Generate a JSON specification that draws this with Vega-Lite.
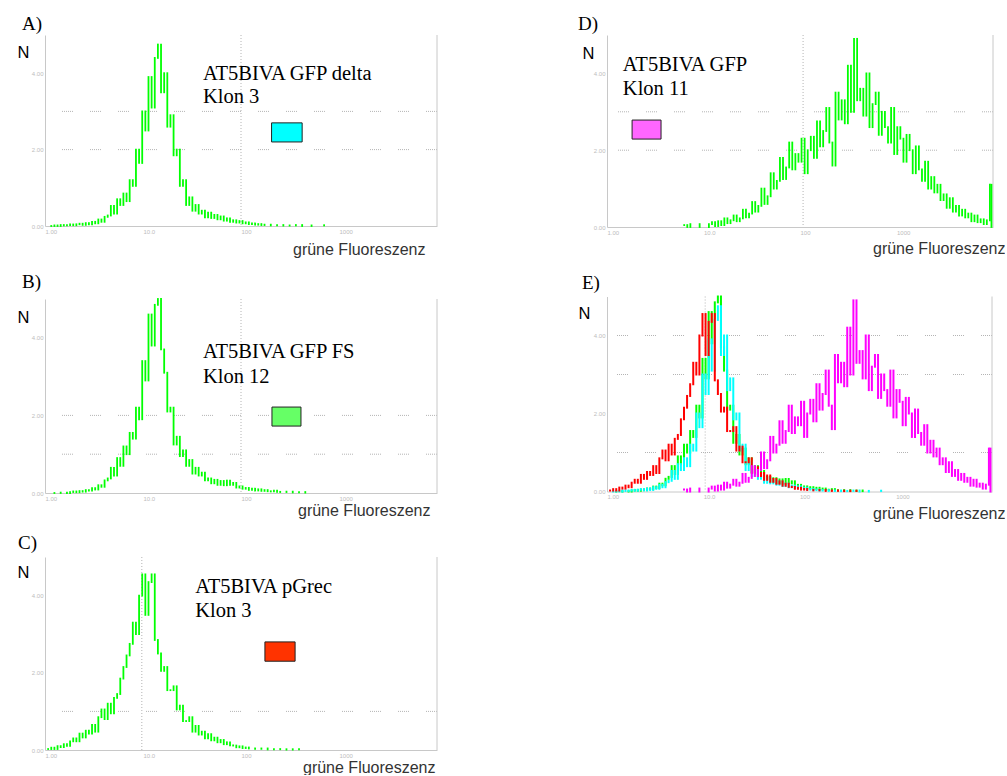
{
"$schema": "https://vega.github.io/schema/vega-lite/v6.json",
"background": "white",
"padding": {"left": 17, "top": 14, "right": 0, "bottom": 0},
"config": {
 "view": {"stroke": null},
 "axis": {"labelFontSize": 6, "labelColor": "#bdbdbd", "labelPadding": 2, "labelFlush": false, "ticks": false, "grid": false, "domainColor": "#c8c8c8", "titleFont": "Liberation Sans", "titleFontWeight": "normal"},
 "axisX": {"labelAlign": "left", "labelBaseline": "top", "titleFontSize": 16, "titleColor": "#333333", "titleAlign": "right", "titleBaseline": "alphabetic"},
 "axisY": {"labelBaseline": "middle", "titleAngle": 0, "titleAlign": "left", "titleBaseline": "alphabetic", "titleFontSize": 16.5, "titleColor": "#000000"},
 "title": {"anchor": "start", "frame": "group", "font": "Liberation Serif", "fontSize": 19, "fontWeight": "normal", "color": "#000000", "baseline": "alphabetic"},
 "text": {"font": "Liberation Serif", "fontSize": 20.5, "align": "left", "baseline": "alphabetic", "color": "#000000"}
},
"datasets": {
 "A": [{"x":16,"n":0},{"x":24,"n":0.3},{"x":32,"n":0},{"x":40,"n":0.5},{"x":48,"n":0.3},{"x":56,"n":0.5},{"x":64,"n":0.8},{"x":72,"n":0.4},{"x":80,"n":0.9},{"x":88,"n":1.2},{"x":96,"n":0.6},{"x":104,"n":1.5},{"x":112,"n":0.8},{"x":120,"n":2.2},{"x":128,"n":1.4},{"x":136,"n":3.4},{"x":144,"n":2.2},{"x":152,"n":4.8},{"x":160,"n":5.5},{"x":168,"n":10.5},{"x":176,"n":6.5},{"x":184,"n":14},{"x":192,"n":11},{"x":200,"n":17},{"x":208,"n":13},{"x":216,"n":24},{"x":224,"n":21},{"x":232,"n":40},{"x":240,"n":33},{"x":248,"n":60},{"x":256,"n":50},{"x":264,"n":78},{"x":272,"n":62},{"x":280,"n":88},{"x":288,"n":95},{"x":296,"n":70},{"x":304,"n":80},{"x":312,"n":52},{"x":320,"n":58},{"x":328,"n":37},{"x":336,"n":40},{"x":344,"n":21},{"x":352,"n":24},{"x":360,"n":11},{"x":368,"n":15},{"x":376,"n":8},{"x":384,"n":11},{"x":392,"n":6.5},{"x":400,"n":8},{"x":408,"n":4.5},{"x":416,"n":7},{"x":424,"n":4.2},{"x":432,"n":5.8},{"x":440,"n":3.5},{"x":448,"n":5},{"x":456,"n":2.8},{"x":464,"n":4},{"x":472,"n":2.2},{"x":480,"n":3},{"x":488,"n":1.8},{"x":496,"n":2.6},{"x":504,"n":1.4},{"x":512,"n":1.9},{"x":520,"n":1},{"x":528,"n":1.3},{"x":536,"n":0.7},{"x":544,"n":1},{"x":552,"n":0.5},{"x":560,"n":0.7},{"x":576,"n":0.3},{"x":592,"n":0.5},{"x":608,"n":0.2},{"x":624,"n":0.3},{"x":640,"n":0.5},{"x":656,"n":0},{"x":680,"n":0.3},{"x":712,"n":0.4}],
 "B": [{"x":24,"n":0},{"x":40,"n":0.2},{"x":56,"n":0},{"x":64,"n":0.5},{"x":72,"n":0.8},{"x":80,"n":0.4},{"x":88,"n":1},{"x":96,"n":0.7},{"x":104,"n":1.5},{"x":112,"n":1.2},{"x":120,"n":2.5},{"x":128,"n":1.8},{"x":136,"n":4},{"x":144,"n":3.2},{"x":152,"n":6.5},{"x":160,"n":7.5},{"x":168,"n":13},{"x":176,"n":9},{"x":184,"n":18},{"x":192,"n":14},{"x":200,"n":24},{"x":208,"n":20},{"x":216,"n":31},{"x":224,"n":28},{"x":232,"n":44},{"x":240,"n":38},{"x":248,"n":68},{"x":256,"n":58},{"x":264,"n":92},{"x":272,"n":76},{"x":280,"n":97},{"x":288,"n":100},{"x":296,"n":74},{"x":304,"n":62},{"x":312,"n":42},{"x":320,"n":44},{"x":328,"n":25},{"x":336,"n":29},{"x":344,"n":19},{"x":352,"n":22},{"x":360,"n":14},{"x":368,"n":17},{"x":376,"n":10},{"x":384,"n":13},{"x":392,"n":9},{"x":400,"n":10.5},{"x":408,"n":6.5},{"x":416,"n":7.5},{"x":424,"n":5},{"x":432,"n":6.8},{"x":440,"n":4.2},{"x":448,"n":6.2},{"x":456,"n":4},{"x":464,"n":6.4},{"x":472,"n":4.2},{"x":480,"n":5.2},{"x":488,"n":2.8},{"x":496,"n":3.4},{"x":504,"n":2.2},{"x":512,"n":2.6},{"x":520,"n":1.6},{"x":528,"n":2.2},{"x":536,"n":1.3},{"x":544,"n":1.9},{"x":552,"n":1.1},{"x":560,"n":1.5},{"x":568,"n":0.9},{"x":576,"n":0.8},{"x":584,"n":1.2},{"x":592,"n":0.6},{"x":600,"n":0.5},{"x":616,"n":0.7},{"x":632,"n":0.3},{"x":648,"n":0.5},{"x":664,"n":0.2}],
 "C": [{"x":8,"n":0.5},{"x":16,"n":1.2},{"x":24,"n":0.5},{"x":32,"n":2},{"x":40,"n":1.5},{"x":48,"n":3},{"x":56,"n":2.2},{"x":64,"n":4.5},{"x":72,"n":6},{"x":80,"n":4.5},{"x":88,"n":8.5},{"x":96,"n":6.5},{"x":104,"n":10},{"x":112,"n":8.5},{"x":120,"n":13},{"x":128,"n":9.5},{"x":136,"n":17},{"x":144,"n":21},{"x":152,"n":16},{"x":160,"n":24},{"x":168,"n":19},{"x":176,"n":27},{"x":184,"n":29},{"x":192,"n":37},{"x":200,"n":43},{"x":208,"n":49},{"x":216,"n":55},{"x":224,"n":66},{"x":232,"n":60},{"x":240,"n":80},{"x":248,"n":91},{"x":256,"n":70},{"x":264,"n":87},{"x":272,"n":91},{"x":280,"n":57},{"x":288,"n":50},{"x":296,"n":41},{"x":304,"n":43},{"x":312,"n":31},{"x":320,"n":31},{"x":328,"n":33},{"x":336,"n":21},{"x":344,"n":23},{"x":352,"n":15},{"x":360,"n":15},{"x":368,"n":17},{"x":376,"n":9.5},{"x":384,"n":12.5},{"x":392,"n":8},{"x":400,"n":9.5},{"x":408,"n":6},{"x":416,"n":8.2},{"x":424,"n":5},{"x":432,"n":6.4},{"x":440,"n":4},{"x":448,"n":5.2},{"x":456,"n":3},{"x":464,"n":4},{"x":472,"n":2.4},{"x":480,"n":2.3},{"x":488,"n":1.4},{"x":496,"n":1.9},{"x":504,"n":1},{"x":512,"n":1.3},{"x":520,"n":0.8},{"x":536,"n":0.6},{"x":552,"n":0.8},{"x":568,"n":0.3},{"x":584,"n":0.5},{"x":600,"n":0.4},{"x":616,"n":0.2},{"x":632,"n":0.4},{"x":648,"n":0.3}],
 "D": [{"x":200,"n":1},{"x":208,"n":0},{"x":216,"n":1.5},{"x":240,"n":0},{"x":264,"n":1.5},{"x":272,"n":2.5},{"x":280,"n":0.5},{"x":288,"n":3},{"x":296,"n":1},{"x":304,"n":4.5},{"x":312,"n":2},{"x":320,"n":3.5},{"x":328,"n":6},{"x":336,"n":3},{"x":344,"n":4.5},{"x":352,"n":9},{"x":360,"n":5},{"x":368,"n":7},{"x":376,"n":13},{"x":384,"n":8},{"x":392,"n":11},{"x":400,"n":20},{"x":408,"n":12},{"x":416,"n":16},{"x":424,"n":28},{"x":432,"n":20},{"x":440,"n":24},{"x":448,"n":36},{"x":456,"n":25},{"x":464,"n":31},{"x":472,"n":44},{"x":480,"n":30},{"x":488,"n":38},{"x":496,"n":34},{"x":504,"n":46},{"x":512,"n":28},{"x":520,"n":40},{"x":528,"n":47},{"x":536,"n":36},{"x":544,"n":55},{"x":552,"n":42},{"x":560,"n":50},{"x":568,"n":62},{"x":576,"n":44},{"x":584,"n":32},{"x":592,"n":70},{"x":600,"n":56},{"x":608,"n":66},{"x":616,"n":54},{"x":624,"n":84},{"x":632,"n":60},{"x":640,"n":98},{"x":648,"n":66},{"x":656,"n":72},{"x":664,"n":58},{"x":672,"n":80},{"x":680,"n":52},{"x":688,"n":64},{"x":696,"n":70},{"x":704,"n":48},{"x":712,"n":60},{"x":720,"n":52},{"x":728,"n":44},{"x":736,"n":62},{"x":744,"n":38},{"x":752,"n":52},{"x":760,"n":46},{"x":768,"n":34},{"x":776,"n":48},{"x":784,"n":40},{"x":792,"n":28},{"x":800,"n":42},{"x":808,"n":30},{"x":816,"n":24},{"x":824,"n":34},{"x":832,"n":20},{"x":840,"n":26},{"x":848,"n":18},{"x":856,"n":22},{"x":864,"n":14},{"x":872,"n":17},{"x":880,"n":10},{"x":888,"n":15},{"x":896,"n":8},{"x":904,"n":11},{"x":912,"n":6},{"x":920,"n":9},{"x":928,"n":5},{"x":936,"n":7},{"x":944,"n":3},{"x":952,"n":6},{"x":960,"n":2.5},{"x":968,"n":4},{"x":976,"n":1.5},{"x":984,"n":3.5},{"x":992,"n":22},{"x":996,"n":0}]
},
"hconcat": [
 {"vconcat": [
  {"width": 392, "height": 191,
   "title": {"text": "A)", "dx": -23, "offset": 1},
   "layer": [
    {"data": {"values": [{"g": 40}, {"g": 60}]}, "mark": {"type": "rule", "color": "#b4b4b4", "strokeDash": [1,1,1,1,1,1,1,1,1,1,1,17]}, "encoding": {"y": {"field": "g", "type": "quantitative", "scale": {"domain": [0, 100], "nice": false}}}},
    {"data": {"values": [{}]}, "mark": {"type": "rule", "color": "#b4b4b4", "strokeDash": [1, 2]}, "encoding": {"x": {"datum": 500, "type": "quantitative", "scale": {"domain": [0, 1000], "nice": false, "zero": false}}}},
    {"data": {"values": [{}]}, "mark": {"type": "rule", "color": "#c8c8c8"}, "encoding": {"x": {"datum": 1000, "type": "quantitative", "scale": {"domain": [0, 1000], "nice": false, "zero": false}}}},
    {"data": {"name": "A"}, "transform": [{"window": [{"op": "lag", "field": "n", "as": "p"}], "sort": [{"field": "x"}]}],
     "mark": {"type": "rule", "color": "#00ff00", "strokeWidth": 1.8, "strokeCap": "square"},
     "encoding": {
      "x": {"field": "x", "type": "quantitative", "scale": {"domain": [0, 1000], "nice": false, "zero": false}, "axis": {"values": [0, 250, 500, 750], "labelExpr": "['1.00','10.0','100','1000'][floor(datum.value/250)]", "title": "grüne Fluoreszenz", "titleX": 380, "titleY": 28}},
      "y": {"field": "n", "type": "quantitative", "scale": {"domain": [0, 100], "nice": false}, "axis": {"values": [0, 20, 40, 60, 80, 100], "labelExpr": "format(datum.value/20, '.2f')", "title": "N", "titleX": -28, "titleY": 22}},
      "y2": {"field": "p"}}},
    {"data": {"values": [{}]}, "mark": {"type": "text"}, "encoding": {"x": {"datum": 403, "type": "quantitative"}, "y": {"datum": 76.4, "type": "quantitative"}, "text": {"value": "AT5BIVA GFP delta"}}},
    {"data": {"values": [{}]}, "mark": {"type": "text"}, "encoding": {"x": {"datum": 403, "type": "quantitative"}, "y": {"datum": 64.4, "type": "quantitative"}, "text": {"value": "Klon 3"}}},
    {"data": {"values": [{}]}, "mark": {"type": "rect", "fill": "#00ffff", "stroke": "#222222", "strokeWidth": 1}, "encoding": {"x": {"datum": 578, "type": "quantitative"}, "x2": {"datum": 656}, "y": {"datum": 44, "type": "quantitative"}, "y2": {"datum": 54}}}
   ]},
  {"width": 392, "height": 194,
   "title": {"text": "B)", "dx": -23, "offset": 6},
   "layer": [
    {"data": {"values": [{"g": 20}, {"g": 40}]}, "mark": {"type": "rule", "color": "#b4b4b4", "strokeDash": [1,1,1,1,1,1,1,1,1,1,1,17]}, "encoding": {"y": {"field": "g", "type": "quantitative", "scale": {"domain": [0, 100], "nice": false}}}},
    {"data": {"values": [{}]}, "mark": {"type": "rule", "color": "#b4b4b4", "strokeDash": [1, 2]}, "encoding": {"x": {"datum": 500, "type": "quantitative", "scale": {"domain": [0, 1000], "nice": false, "zero": false}}}},
    {"data": {"values": [{}]}, "mark": {"type": "rule", "color": "#c8c8c8"}, "encoding": {"x": {"datum": 1000, "type": "quantitative", "scale": {"domain": [0, 1000], "nice": false, "zero": false}}}},
    {"data": {"name": "B"}, "transform": [{"window": [{"op": "lag", "field": "n", "as": "p"}], "sort": [{"field": "x"}]}],
     "mark": {"type": "rule", "color": "#00ff00", "strokeWidth": 1.8, "strokeCap": "square"},
     "encoding": {
      "x": {"field": "x", "type": "quantitative", "scale": {"domain": [0, 1000], "nice": false, "zero": false}, "axis": {"values": [0, 250, 500, 750], "labelExpr": "['1.00','10.0','100','1000'][floor(datum.value/250)]", "title": "grüne Fluoreszenz", "titleX": 385, "titleY": 22}},
      "y": {"field": "n", "type": "quantitative", "scale": {"domain": [0, 100], "nice": false}, "axis": {"values": [0, 20, 40, 60, 80, 100], "labelExpr": "format(datum.value/20, '.2f')", "title": "N", "titleX": -28, "titleY": 23}},
      "y2": {"field": "p"}}},
    {"data": {"values": [{}]}, "mark": {"type": "text"}, "encoding": {"x": {"datum": 403, "type": "quantitative"}, "y": {"datum": 69.6, "type": "quantitative"}, "text": {"value": "AT5BIVA GFP FS"}}},
    {"data": {"values": [{}]}, "mark": {"type": "text"}, "encoding": {"x": {"datum": 403, "type": "quantitative"}, "y": {"datum": 56.7, "type": "quantitative"}, "text": {"value": "Klon 12"}}},
    {"data": {"values": [{}]}, "mark": {"type": "rect", "fill": "#66ff66", "stroke": "#222222", "strokeWidth": 1}, "encoding": {"x": {"datum": 579, "type": "quantitative"}, "x2": {"datum": 653}, "y": {"datum": 34.5, "type": "quantitative"}, "y2": {"datum": 44.3}}}
   ]},
  {"width": 392, "height": 193,
   "title": {"text": "C)", "dx": -27, "offset": 4},
   "layer": [
    {"data": {"values": [{"g": 20}]}, "mark": {"type": "rule", "color": "#b4b4b4", "strokeDash": [1,1,1,1,1,1,1,1,1,1,1,17]}, "encoding": {"y": {"field": "g", "type": "quantitative", "scale": {"domain": [0, 100], "nice": false}}}},
    {"data": {"values": [{}]}, "mark": {"type": "rule", "color": "#b4b4b4", "strokeDash": [1, 2]}, "encoding": {"x": {"datum": 247, "type": "quantitative", "scale": {"domain": [0, 1000], "nice": false, "zero": false}}}},
    {"data": {"values": [{}]}, "mark": {"type": "rule", "color": "#c8c8c8"}, "encoding": {"x": {"datum": 1000, "type": "quantitative", "scale": {"domain": [0, 1000], "nice": false, "zero": false}}}},
    {"data": {"name": "C"}, "transform": [{"window": [{"op": "lag", "field": "n", "as": "p"}], "sort": [{"field": "x"}]}],
     "mark": {"type": "rule", "color": "#00ff00", "strokeWidth": 1.8, "strokeCap": "square"},
     "encoding": {
      "x": {"field": "x", "type": "quantitative", "scale": {"domain": [0, 1000], "nice": false, "zero": false}, "axis": {"values": [0, 250, 500, 750], "labelExpr": "['1.00','10.0','100','1000'][floor(datum.value/250)]", "title": "grüne Fluoreszenz", "titleX": 390, "titleY": 22}},
      "y": {"field": "n", "type": "quantitative", "scale": {"domain": [0, 100], "nice": false}, "axis": {"values": [0, 20, 40, 60, 80, 100], "labelExpr": "format(datum.value/20, '.2f')", "title": "N", "titleX": -28, "titleY": 20}},
      "y2": {"field": "p"}}},
    {"data": {"values": [{}]}, "mark": {"type": "text"}, "encoding": {"x": {"datum": 383, "type": "quantitative"}, "y": {"datum": 81.3, "type": "quantitative"}, "text": {"value": "AT5BIVA pGrec"}}},
    {"data": {"values": [{}]}, "mark": {"type": "text"}, "encoding": {"x": {"datum": 383, "type": "quantitative"}, "y": {"datum": 68.9, "type": "quantitative"}, "text": {"value": "Klon 3"}}},
    {"data": {"values": [{}]}, "mark": {"type": "rect", "fill": "#ff3300", "stroke": "#222222", "strokeWidth": 1}, "encoding": {"x": {"datum": 561, "type": "quantitative"}, "x2": {"datum": 638}, "y": {"datum": 46, "type": "quantitative"}, "y2": {"datum": 56}}}
   ]}
 ], "spacing": 15},
 {"vconcat": [
  {"width": 386, "height": 192,
   "title": {"text": "D)", "dx": -29, "offset": 1},
   "layer": [
    {"data": {"values": [{"g": 40}, {"g": 60}]}, "mark": {"type": "rule", "color": "#b4b4b4", "strokeDash": [1,1,1,1,1,1,1,1,1,1,1,17]}, "encoding": {"y": {"field": "g", "type": "quantitative", "scale": {"domain": [0, 100], "nice": false}}}},
    {"data": {"values": [{}]}, "mark": {"type": "rule", "color": "#b4b4b4", "strokeDash": [1, 2]}, "encoding": {"x": {"datum": 508, "type": "quantitative", "scale": {"domain": [0, 1000], "nice": false, "zero": false}}}},
    {"data": {"values": [{}]}, "mark": {"type": "rule", "color": "#c8c8c8"}, "encoding": {"x": {"datum": 1000, "type": "quantitative", "scale": {"domain": [0, 1000], "nice": false, "zero": false}}}},
    {"data": {"name": "D"}, "transform": [{"window": [{"op": "lag", "field": "n", "as": "p"}], "sort": [{"field": "x"}]}],
     "mark": {"type": "rule", "color": "#00ff00", "strokeWidth": 1.8, "strokeCap": "square"},
     "encoding": {
      "x": {"field": "x", "type": "quantitative", "scale": {"domain": [0, 1000], "nice": false, "zero": false}, "axis": {"values": [0, 250, 500, 750], "labelExpr": "['1.00','10.0','100','1000'][floor(datum.value/250)]", "title": "grüne Fluoreszenz", "titleX": 398, "titleY": 26}},
      "y": {"field": "n", "type": "quantitative", "scale": {"domain": [0, 100], "nice": false}, "axis": {"values": [0, 20, 40, 60, 80, 100], "labelExpr": "format(datum.value/20, '.2f')", "title": "N", "titleX": -25, "titleY": 23}},
      "y2": {"field": "p"}}},
    {"data": {"values": [{}]}, "mark": {"type": "text"}, "encoding": {"x": {"datum": 41, "type": "quantitative"}, "y": {"datum": 81.2, "type": "quantitative"}, "text": {"value": "AT5BIVA GFP"}}},
    {"data": {"values": [{}]}, "mark": {"type": "text"}, "encoding": {"x": {"datum": 41, "type": "quantitative"}, "y": {"datum": 68.8, "type": "quantitative"}, "text": {"value": "Klon 11"}}},
    {"data": {"values": [{}]}, "mark": {"type": "rect", "fill": "#ff66ff", "stroke": "#222222", "strokeWidth": 1}, "encoding": {"x": {"datum": 65, "type": "quantitative"}, "x2": {"datum": 140}, "y": {"datum": 45.8, "type": "quantitative"}, "y2": {"datum": 55.7}}}
   ]},
  {"width": 385, "height": 195,
   "title": {"text": "E)", "dx": -25, "offset": 2},
   "layer": [
    {"data": {"values": [{"g": 20}, {"g": 60}, {"g": 80}]}, "mark": {"type": "rule", "color": "#b4b4b4", "strokeDash": [1,1,1,1,1,1,1,1,1,1,1,17]}, "encoding": {"y": {"field": "g", "type": "quantitative", "scale": {"domain": [0, 100], "nice": false}}}},
    {"data": {"values": [{}]}, "mark": {"type": "rule", "color": "#b4b4b4", "strokeDash": [1, 2]}, "encoding": {"x": {"datum": 255, "type": "quantitative", "scale": {"domain": [0, 1000], "nice": false, "zero": false}}}},
    {"data": {"values": [{}]}, "mark": {"type": "rule", "color": "#c8c8c8"}, "encoding": {"x": {"datum": 1000, "type": "quantitative", "scale": {"domain": [0, 1000], "nice": false, "zero": false}}}},
    {"data": {"name": "B"}, "transform": [{"window": [{"op": "lag", "field": "n", "as": "p"}], "sort": [{"field": "x"}]}],
     "mark": {"type": "rule", "color": "#00ff00", "strokeWidth": 2, "strokeCap": "square"},
     "encoding": {
      "x": {"field": "x", "type": "quantitative", "scale": {"domain": [0, 1000], "nice": false, "zero": false}, "axis": {"values": [0, 250, 500, 750], "labelExpr": "['1.00','10.0','100','1000'][floor(datum.value/250)]", "title": "grüne Fluoreszenz", "titleX": 398, "titleY": 27}},
      "y": {"field": "n", "type": "quantitative", "scale": {"domain": [0, 100], "nice": false}, "axis": {"values": [0, 20, 40, 60, 80, 100], "labelExpr": "format(datum.value/20, '.2f')", "title": "N", "titleX": -29, "titleY": 22}},
      "y2": {"field": "p"}}},
    {"data": {"name": "A"}, "transform": [{"window": [{"op": "lag", "field": "n", "as": "p"}], "sort": [{"field": "x"}]}], "mark": {"type": "rule", "color": "#00ffff", "strokeWidth": 2, "strokeCap": "square"}, "encoding": {"x": {"field": "x", "type": "quantitative"}, "y": {"field": "n", "type": "quantitative"}, "y2": {"field": "p"}}},
    {"data": {"name": "C"}, "transform": [{"window": [{"op": "lag", "field": "n", "as": "p"}], "sort": [{"field": "x"}]}], "mark": {"type": "rule", "color": "#ff0000", "strokeWidth": 2, "strokeCap": "square"}, "encoding": {"x": {"field": "x", "type": "quantitative"}, "y": {"field": "n", "type": "quantitative"}, "y2": {"field": "p"}}},
    {"data": {"name": "D"}, "transform": [{"window": [{"op": "lag", "field": "n", "as": "p"}], "sort": [{"field": "x"}]}], "mark": {"type": "rule", "color": "#ff00ff", "strokeWidth": 2, "strokeCap": "square"}, "encoding": {"x": {"field": "x", "type": "quantitative"}, "y": {"field": "n", "type": "quantitative"}, "y2": {"field": "p"}}}
   ]}
 ], "spacing": 17.5}
],
"spacing": 140
}
